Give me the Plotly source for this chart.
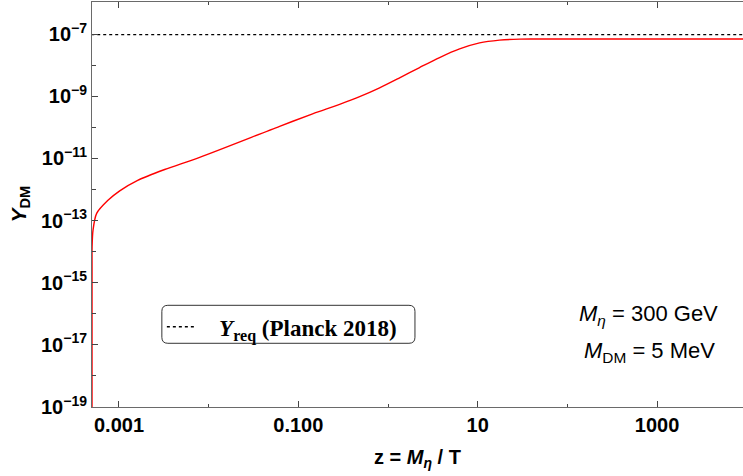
import plotly.graph_objects as go

# ---- data ----
z_vals = [5.000e-4, 5.0023e-4, 5.0058e-4, 5.0119e-4, 5.129e-4, 5.636e-4, 7.534e-4,
          1.019e-3, 1.616e-3, 3.232e-3, 7.937e-3, 6.185e-2, 0.1443, 0.2887, 0.4826,
          0.8062, 1.347, 2.250, 3.761, 6.284, 10.50, 17.54, 29.32, 48.98, 9333.0]
Y_dm = [1e-20, 1e-16, 3.16e-15, 1.38e-14, 4.79e-14, 1.70e-13, 4.47e-13,
        9.02e-13, 1.963e-12, 4.37e-12, 1.079e-11, 1.072e-10, 2.704e-10, 5.47e-10, 9.62e-10,
        1.845e-9, 3.873e-9, 8.356e-9, 1.754e-8, 3.319e-8, 5.176e-8, 6.368e-8, 6.855e-8,
        6.902e-8, 6.902e-8]

z_req = [4.9e-4, 9333.0]
Y_req = [9.5e-8, 9.5e-8]

x_tick_vals = [1e-3, 1e-1, 1e1, 1e3]
x_tick_text = ["0.001", "0.100", "10", "1000"]
x_minor_vals = [1e-2, 1e0, 1e2]

y_exps = [-7, -9, -11, -13, -15, -17, -19]
y_minor_exps = [-6, -8, -10, -12, -14, -16, -18]

SANS = "Liberation Sans, Arial, Helvetica, sans-serif"
SERIF = "Liberation Serif, Times New Roman, serif"
AXC = "#6a6a6a"
TKC = "#444444"

fig = go.Figure()
fig.add_trace(go.Scatter(x=z_req, y=Y_req, mode="lines",
                         line=dict(color="black", width=1.3, dash="dot"),
                         name="\u00a0\u00a0\u00a0<b><i>Y</i><sub>req</sub> (Planck 2018)</b>",
                         showlegend=True))
fig.add_trace(go.Scatter(x=z_vals, y=Y_dm, mode="lines",
                         line=dict(color="#ff0000", width=1.4, shape="spline", smoothing=0.8),
                         showlegend=False))

fig.update_layout(
    width=743, height=476,
    margin=dict(l=92, r=0, t=2, b=69),
    plot_bgcolor="white", paper_bgcolor="white",
    font=dict(family=SANS, color="black"),
    legend=dict(x=0.1073, y=0.2511, xanchor="left", yanchor="top",
                bgcolor="rgba(0,0,0,0)", borderwidth=0,
                font=dict(family=SERIF, size=23, color="black"),
                itemwidth=30),
)

fig.update_xaxes(
    type="log", range=[-3.301, 3.959],
    showgrid=False, zeroline=False,
    showline=True, linecolor=AXC, linewidth=1, mirror="ticks",
    ticks="inside", ticklen=6, tickcolor=TKC, tickwidth=1,
    tickmode="array", tickvals=x_tick_vals,
    ticktext=["<b>%s</b>" % t for t in x_tick_text],
    tickfont=dict(family=SANS, size=20, color="black"),
    minor=dict(tickmode="array", tickvals=x_minor_vals, ticks="inside",
               ticklen=3, tickcolor=TKC, tickwidth=1, showgrid=False),
)
fig.update_yaxes(
    type="log", range=[-19, -5.97],
    showgrid=False, zeroline=False,
    showline=True, linecolor=AXC, linewidth=1, mirror=False,
    ticks="inside", ticklen=6, tickcolor=TKC, tickwidth=1,
    tickmode="array", tickvals=[10.0 ** e for e in y_exps],
    ticktext=["<b>10<sup>\u2212%d</sup></b>" % (-e) for e in y_exps],
    tickfont=dict(family=SANS, size=20, color="black"),
    minor=dict(tickmode="array", tickvals=[10.0 ** e for e in y_minor_exps],
               ticks="inside", ticklen=4, tickcolor=TKC, tickwidth=1, showgrid=False),
)

# rounded legend frame
x0, x1, y0, y1 = 0.1073, 0.4961, 0.1573, 0.2511
def rr(x0, y0, x1, y1, rx, ry):
    return (f"M{x0+rx},{y0} L{x1-rx},{y0} Q{x1},{y0} {x1},{y0+ry} "
            f"L{x1},{y1-ry} Q{x1},{y1} {x1-rx},{y1} L{x0+rx},{y1} "
            f"Q{x0},{y1} {x0},{y1-ry} L{x0},{y0+ry} Q{x0},{y0} {x0+rx},{y0} Z")
fig.add_shape(type="path", xref="paper", yref="paper",
              path=rr(x0, y0, x1, y1, 6/650.7, 6/405),
              line=dict(color="#333333", width=1), fillcolor="rgba(0,0,0,0)")

def note(x, y, text, size=20, angle=0):
    fig.add_annotation(xref="paper", yref="paper", x=x, y=y, text=text,
                       xanchor="center", yanchor="middle", textangle=angle,
                       showarrow=False, font=dict(family=SANS, size=size, color="black"))

note(0.8555, 0.2264, "<i>M</i><sub><i>\u03b7</i></sub> = 300 GeV", 22)
note(0.857, 0.135, "<i>M</i><sub>DM</sub> = 5 MeV", 22)
note(0.5, -0.1267, "<b>z = <i>M</i><sub><i>\u03b7</i></sub> / T</b>", 20)
note(-0.112, 0.50, "<b><i>Y</i><sub>DM</sub></b>", 21, -90)

fig.write_html("out.html")
